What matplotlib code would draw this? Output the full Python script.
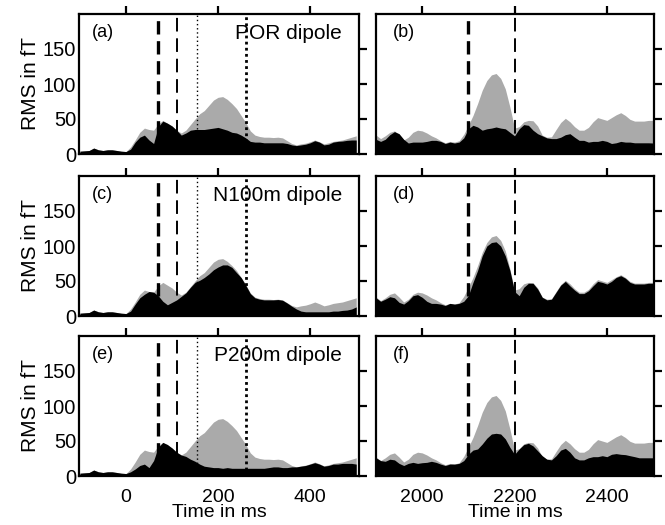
import numpy as np
import matplotlib.pyplot as plt

plt.rcParams['font.family'] = ['Liberation Sans', 'DejaVu Sans']

# sampling grids (ms)
t_left = np.arange(-100, 510, 10)
t_right = np.arange(1900, 2510, 10)

# measured RMS (gray), same in every row
gray_left = [4, 4.5, 5, 8.5, 6, 5, 6, 6, 5, 4, 3.5,
             10, 20, 31, 37, 35, 34, 43, 48, 44, 40,
             34, 30, 34, 42, 50, 57.5, 62, 69.5, 77, 81,
             82, 78, 72, 65, 55, 45, 33, 27, 25, 24,
             24, 23.5, 24, 23, 19, 15, 13, 14.5, 15.5, 17.5,
             20, 17.5, 14.5, 16, 18, 19, 20, 22, 24, 26]
gray_right = [27, 22, 26, 31, 33, 27, 20, 24, 31, 34, 33,
              30, 26, 23, 19, 16, 18, 17, 19, 28, 41,
              55, 72, 91, 105, 113, 115, 108, 93, 67, 37,
              39, 46, 48, 47.5, 40, 27, 24, 24.5, 35, 45,
              51, 46, 39, 34, 34, 38, 46, 52, 50, 48,
              52, 56, 59, 55, 49.5, 47, 47, 47, 48, 48]

# dipole model RMS (black)
por_left = [4, 4.5, 5, 8.5, 6, 5, 6, 6, 5, 4, 3.5,
            7, 17, 24, 27, 20, 15, 39, 47, 44, 40,
            34, 27, 30, 34, 35, 35, 35, 36, 37, 38,
            36, 34, 31, 30, 27, 23, 18, 17, 17, 16,
            16, 16, 16, 16, 15, 13, 12, 13, 14, 16,
            19, 17, 13, 14, 17, 18, 18.5, 19.5, 20, 20]
n100_left = [4, 4.5, 5, 8.5, 6, 5, 6, 6, 5, 4, 3.5,
             7, 17, 26, 31, 35, 34, 29, 21, 16, 19.5,
             23, 28, 33, 41, 48, 51, 55, 60, 66, 70,
             73, 73, 69.5, 62, 55, 44, 32, 26, 24, 23,
             23, 23, 23.5, 22.5, 18.5, 14, 10, 7, 6, 6,
             6, 6, 6, 6, 7, 7, 8, 8.5, 10, 13]
p200_left = [4, 4.5, 5, 8.5, 6, 5, 6, 6, 5, 4, 3.5,
             6, 10, 15, 17, 12, 22, 41, 48, 45, 40,
             34, 30, 28, 24, 21, 17, 14, 13, 12, 12,
             11, 12, 11, 11, 11, 11, 11, 11, 11, 11,
             12, 13, 13, 12, 12, 13, 13, 14, 15, 17,
             19, 17, 14, 15, 17, 17, 18, 18, 18, 17]
por_right = [21, 18, 21, 27.6, 32, 29, 21, 15.7, 17, 17, 17,
             18, 19.5, 19.5, 18, 15, 17, 15.7, 17, 23, 36,
             41, 38.6, 34, 36, 37, 38.6, 37, 36, 31, 26,
             36, 42, 41, 34, 29, 26, 23, 22, 22, 24,
             27.6, 29, 24, 19.5, 19.5, 17, 18, 18, 19.5, 18,
             15, 16, 18, 17, 17, 16, 16, 16, 16, 15.7]
n100_right = [26, 21, 24, 27.6, 26, 19.5, 17, 21.9, 29, 30.5, 26.7,
              21, 18, 18, 17, 15, 18, 17, 18, 21, 29,
              48, 65, 86, 100, 105, 106, 100, 86, 65, 35,
              29, 41, 46.7, 46.7, 38.6, 26.7, 23, 24, 34, 44,
              49.5, 43, 37, 32, 32, 36, 43, 49.5, 48, 45.7,
              49.5, 55, 57.6, 54, 48, 45.7, 45.7, 45.7, 46.7, 46.7]
p200_right = [26, 22, 21, 24, 23, 18, 15, 18, 19.5, 18, 19,
              19.5, 21, 19.5, 17, 15, 17, 17, 18, 22, 31,
              37, 38.6, 45.7, 54, 60, 61, 60, 53, 41, 31,
              38.6, 44.8, 46.7, 43, 36, 29, 24, 23, 29, 37,
              39.5, 34, 26, 23, 23, 26, 27.6, 27.6, 29, 27.6,
              31, 32, 31, 30.5, 29, 27.6, 26, 26, 26, 26]

rows = [("(a)", "(b)", "POR dipole", por_left, por_right),
        ("(c)", "(d)", "N100m dipole", n100_left, n100_right),
        ("(e)", "(f)", "P200m dipole", p200_left, p200_right)]

W, H = 665, 525
bottoms = [154, 316, 476]

fig = plt.figure(figsize=(W / 100, H / 100), dpi=100)

for i, (lab_l, lab_r, name, blk_l, blk_r) in enumerate(rows):
    b = (H - bottoms[i]) / H
    axl = fig.add_axes([79 / W, b, 280 / W, 140 / H])
    axr = fig.add_axes([376 / W, b, 278 / W, 140 / H])

    for ax, t, g, k in [(axl, t_left, gray_left, blk_l), (axr, t_right, gray_right, blk_r)]:
        ax.fill_between(t, 0, g, color='#aaaaaa', lw=0, zorder=1)
        ax.fill_between(t, 0, k, color='black', lw=0, zorder=2)
        ax.set_ylim(0, 200)
        ax.set_yticks([0, 50, 100, 150])
        for s in ax.spines.values():
            s.set_linewidth(1.6)
        ax.tick_params(top=True, right=True, direction='out', length=6, width=1.6,
                       labelsize=14.5)
        ax.tick_params(axis='y', which='both', left=False, pad=-4)
        ax.tick_params(axis='x', which='both', bottom=False, labelsize=14, pad=3)

    axl.set_xlim(-102, 506)
    axr.set_xlim(1900, 2502)
    axl.set_xticks([0, 200, 400])
    axr.set_xticks([2000, 2200, 2400])
    axr.set_yticklabels([])

    # event markers
    axl.axvline(70, color='black', lw=2.4, ls=(0, (4, 2)), zorder=3)
    axl.axvline(110, color='black', lw=1.4, ls=(0, (7, 3.5)), zorder=3)
    axl.axvline(155, color='black', lw=1.0, ls=(0, (1, 2)), zorder=3)
    axl.axvline(260, color='black', lw=2.0, ls=(0, (1, 1.2)), zorder=3)
    axr.axvline(2100, color='black', lw=2.4, ls=(0, (4, 2)), zorder=3)
    axr.axvline(2200, color='black', lw=1.4, ls=(0, (7, 3.5)), zorder=3)

    axl.text(0.045, 0.87, lab_l, transform=axl.transAxes, fontsize=13, va='center')
    axr.text(0.06, 0.87, lab_r, transform=axr.transAxes, fontsize=13, va='center')
    axl.text(0.94, 0.86, name, transform=axl.transAxes, fontsize=15, va='center', ha='right')

    axl.set_ylabel("RMS in fT", fontsize=15, labelpad=2)
    if i < 2:
        axl.set_xticklabels([])
        axr.set_xticklabels([])
    else:
        axl.set_xlabel("Time in ms", fontsize=14, labelpad=-1)
        axr.set_xlabel("Time in ms", fontsize=14, labelpad=-1)

fig.savefig("out.png", dpi=100)
